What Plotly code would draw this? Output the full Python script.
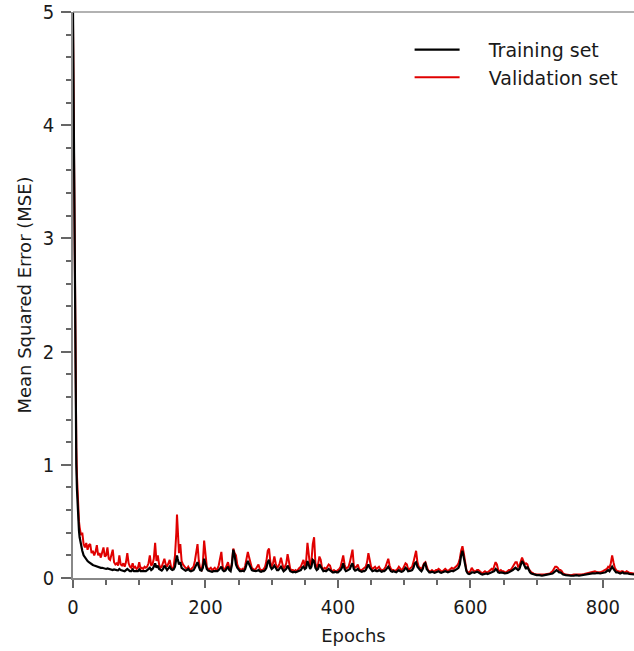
import plotly.graph_objects as go

# (epoch, training MSE, validation MSE)
epochs = [0,1,2,3,4,5,6,7,8,9,10,12,14,16,18,20,22,24,26,28,30,32,34,36,38,40,42,44,46,48,
          50,52,54,56,58,60,62,64,66,68,70,72,74,76,78,80,82,84,86,88,90,92,94,96,98,
          100,102,104,106,108,110,112,114,116,118,120,122,124,126,128,130,132,134,136,138,140,
          142,144,146,148,150,152,154,156,157,158,160,162,164,166,168,170,172,174,176,178,180,
          182,184,186,188,190,192,194,196,198,200,202,204,206,208,210,212,214,216,218,220,
          222,224,226,228,230,232,234,236,238,240,242,244,246,248,250,252,254,256,258,260,
          262,264,266,268,270,272,274,276,278,280,282,284,286,288,290,292,294,296,298,300,
          302,304,306,308,310,312,314,316,318,320,322,324,326,328,330,332,334,336,338,340,
          342,344,346,348,350,352,354,356,358,360,362,364,366,368,370,372,374,376,378,380,
          382,384,386,388,390,392,394,396,398,400,402,404,406,408,410,412,414,416,418,420,
          422,424,426,428,430,432,434,436,438,440,442,444,446,448,450,452,454,456,458,460,
          462,464,466,468,470,472,474,476,478,480,482,484,486,488,490,492,494,496,498,500,
          502,504,506,508,510,512,514,516,518,520,522,524,526,528,530,532,534,536,538,540,
          542,544,546,548,550,552,554,556,558,560,562,564,566,568,570,572,574,576,578,580,
          582,584,586,588,590,592,594,596,598,600,602,604,606,608,610,612,614,616,618,620,
          622,624,626,628,630,632,634,636,638,640,642,644,646,648,650,652,654,656,658,660,
          662,664,666,668,670,672,674,676,678,680,682,684,686,688,690,692,694,696,700,704,
          708,712,716,720,722,724,726,728,730,732,734,736,738,740,744,748,752,756,760,764,
          768,772,776,780,784,788,792,796,800,804,806,808,810,812,814,816,818,820,822,824,
          826,828,830,832,834,836,838,840,842,844,846,848,850]

train_mse = [5.0,4.1,3.0,2.1,1.45,1.0,0.78,0.62,0.5,0.42,0.36,0.29,0.24,0.2,0.18,0.16,0.15,0.14,0.13,0.125,
             0.115,0.11,0.105,0.1,0.1,0.095,0.09,0.09,0.088,0.085,
             0.08,0.085,0.08,0.075,0.075,0.07,0.075,0.07,0.07,0.068,0.08,0.07,0.065,0.065,0.06,0.07,0.08,0.07,0.06,0.06,
             0.075,0.06,0.06,0.065,0.06,
             0.075,0.06,0.06,0.06,0.065,0.06,0.07,0.085,0.09,0.07,0.08,0.1,0.13,0.09,0.11,0.08,0.07,0.065,0.08,0.11,0.09,
             0.07,0.085,0.1,0.08,0.07,0.075,0.1,0.17,0.2,0.17,0.12,0.14,0.09,0.08,0.07,0.065,0.07,0.08,0.065,0.06,0.065,
             0.07,0.09,0.12,0.14,0.1,0.07,0.065,0.09,0.17,0.12,0.08,0.065,0.06,0.06,0.055,0.06,0.06,0.055,0.06,0.07,
             0.09,0.1,0.07,0.06,0.065,0.08,0.1,0.07,0.06,0.12,0.25,0.2,0.12,0.09,0.07,0.06,0.06,0.065,0.06,0.08,
             0.12,0.15,0.12,0.09,0.07,0.065,0.06,0.06,0.065,0.07,0.06,0.055,0.06,0.06,0.07,0.09,0.14,0.16,0.1,0.08,
             0.09,0.11,0.09,0.07,0.07,0.09,0.1,0.08,0.06,0.07,0.08,0.11,0.08,0.06,0.055,0.05,0.055,0.05,0.055,0.06,
             0.06,0.07,0.09,0.1,0.08,0.09,0.15,0.12,0.08,0.1,0.16,0.15,0.09,0.07,0.08,0.12,0.1,0.07,0.06,0.065,
             0.06,0.07,0.08,0.07,0.055,0.05,0.05,0.055,0.05,0.05,0.06,0.07,0.09,0.13,0.08,0.06,0.065,0.07,0.08,0.11,
             0.13,0.08,0.065,0.07,0.08,0.065,0.06,0.055,0.06,0.06,0.07,0.09,0.12,0.09,0.07,0.06,0.065,0.07,0.06,0.06,
             0.07,0.06,0.055,0.06,0.06,0.07,0.09,0.1,0.08,0.06,0.055,0.06,0.055,0.05,0.06,0.07,0.06,0.055,0.06,0.07,
             0.09,0.08,0.06,0.06,0.065,0.07,0.09,0.13,0.14,0.1,0.08,0.07,0.06,0.08,0.12,0.13,0.08,0.06,0.05,0.05,
             0.055,0.05,0.045,0.05,0.055,0.06,0.05,0.045,0.05,0.055,0.06,0.055,0.05,0.055,0.06,0.065,0.06,0.065,0.07,0.08,
             0.09,0.12,0.2,0.24,0.18,0.1,0.06,0.04,0.035,0.04,0.05,0.05,0.045,0.05,0.055,0.05,0.04,0.035,0.03,0.035,
             0.04,0.04,0.035,0.04,0.045,0.05,0.05,0.06,0.08,0.07,0.05,0.045,0.05,0.05,0.045,0.04,0.04,0.045,0.05,0.055,
             0.06,0.07,0.08,0.09,0.08,0.07,0.08,0.12,0.15,0.13,0.1,0.08,0.1,0.07,0.05,0.04,0.035,0.03,0.025,0.025,
             0.02,0.025,0.03,0.03,0.035,0.04,0.05,0.06,0.07,0.06,0.05,0.05,0.04,0.03,0.025,0.02,0.02,0.02,0.025,0.02,
             0.025,0.025,0.03,0.035,0.04,0.04,0.045,0.04,0.045,0.05,0.06,0.07,0.06,0.08,0.1,0.08,0.06,0.05,0.05,0.045,
             0.04,0.045,0.05,0.04,0.04,0.045,0.04,0.035,0.035,0.03,0.03,0.03,0.03]

val_mse = [4.9,4.0,3.0,2.2,1.6,1.15,0.9,0.72,0.6,0.5,0.45,0.38,0.4,0.3,0.27,0.31,0.25,0.29,0.3,0.22,
           0.24,0.2,0.23,0.29,0.2,0.22,0.18,0.23,0.27,0.19,
           0.2,0.27,0.17,0.16,0.2,0.25,0.14,0.12,0.13,0.11,0.2,0.12,0.11,0.13,0.1,0.14,0.22,0.13,0.1,0.09,
           0.13,0.09,0.1,0.08,0.09,
           0.14,0.08,0.09,0.08,0.1,0.09,0.1,0.13,0.2,0.11,0.12,0.17,0.31,0.15,0.2,0.12,0.09,0.1,0.13,0.17,0.12,
           0.1,0.13,0.16,0.1,0.08,0.1,0.2,0.4,0.56,0.45,0.22,0.3,0.15,0.12,0.1,0.09,0.08,0.1,0.08,0.07,0.09,
           0.1,0.15,0.22,0.3,0.15,0.08,0.07,0.13,0.33,0.2,0.1,0.08,0.08,0.09,0.07,0.08,0.09,0.07,0.08,0.11,
           0.17,0.23,0.1,0.08,0.08,0.12,0.14,0.09,0.07,0.14,0.26,0.22,0.2,0.12,0.09,0.08,0.07,0.08,0.07,0.11,
           0.18,0.23,0.18,0.12,0.09,0.08,0.07,0.08,0.1,0.12,0.08,0.07,0.07,0.08,0.1,0.15,0.24,0.26,0.14,0.1,
           0.13,0.19,0.13,0.09,0.1,0.13,0.18,0.11,0.08,0.1,0.13,0.21,0.12,0.08,0.07,0.07,0.06,0.07,0.06,0.08,
           0.09,0.1,0.13,0.16,0.1,0.15,0.31,0.2,0.1,0.15,0.3,0.36,0.13,0.09,0.12,0.19,0.16,0.09,0.08,0.09,
           0.08,0.1,0.12,0.11,0.07,0.06,0.07,0.06,0.06,0.07,0.08,0.1,0.14,0.2,0.12,0.08,0.09,0.1,0.14,0.2,
           0.25,0.11,0.09,0.1,0.12,0.08,0.07,0.07,0.08,0.09,0.1,0.14,0.22,0.16,0.1,0.08,0.09,0.1,0.08,0.09,
           0.1,0.08,0.07,0.07,0.08,0.1,0.13,0.17,0.11,0.08,0.07,0.07,0.06,0.07,0.08,0.1,0.08,0.07,0.08,0.1,
           0.13,0.12,0.08,0.08,0.09,0.1,0.14,0.2,0.24,0.14,0.1,0.09,0.08,0.1,0.13,0.14,0.1,0.07,0.06,0.06,
           0.07,0.06,0.06,0.07,0.07,0.08,0.07,0.06,0.06,0.07,0.08,0.07,0.06,0.07,0.08,0.09,0.08,0.09,0.1,0.11,
           0.13,0.17,0.24,0.28,0.22,0.12,0.07,0.05,0.05,0.06,0.09,0.07,0.06,0.06,0.07,0.07,0.06,0.05,0.04,0.05,
           0.06,0.05,0.05,0.06,0.07,0.08,0.07,0.1,0.14,0.12,0.07,0.06,0.07,0.06,0.06,0.05,0.05,0.06,0.07,0.07,
           0.08,0.1,0.12,0.14,0.14,0.1,0.11,0.15,0.18,0.15,0.12,0.13,0.12,0.08,0.06,0.05,0.045,0.035,0.03,0.03,
           0.025,0.03,0.035,0.04,0.05,0.06,0.08,0.1,0.1,0.09,0.07,0.07,0.06,0.04,0.03,0.025,0.025,0.03,0.03,0.025,
           0.03,0.035,0.04,0.05,0.05,0.06,0.05,0.05,0.06,0.07,0.08,0.1,0.09,0.13,0.2,0.14,0.09,0.07,0.06,0.06,
           0.05,0.06,0.06,0.05,0.05,0.06,0.05,0.045,0.045,0.04,0.04,0.04,0.04]

x_ticks = [0, 200, 400, 600, 800]
y_ticks = [0, 1, 2, 3, 4, 5]

NB = "\u00a0" * 4
tick_font = dict(family="DejaVu Sans Condensed, DejaVu Sans, sans-serif", size=20, color="#1a1a1a")
title_font = dict(family="DejaVu Sans, sans-serif", size=18, color="#1a1a1a")

fig = go.Figure()
fig.add_trace(go.Scatter(x=epochs, y=val_mse, mode="lines", name=NB + "Validation set",
                         line=dict(color="#e00000", width=2), legendrank=2))
fig.add_trace(go.Scatter(x=epochs, y=train_mse, mode="lines", name=NB + "Training set",
                         line=dict(color="#000000", width=2.2), legendrank=1))

fig.update_layout(
    width=634, height=651,
    margin=dict(l=73, r=0, t=10, b=73),
    paper_bgcolor="white", plot_bgcolor="white",
    showlegend=True,
    legend=dict(x=0.6, y=0.967, xanchor="left", yanchor="top",
                font=dict(family="DejaVu Sans, sans-serif", size=19, color="#1a1a1a"),
                bgcolor="rgba(0,0,0,0)", itemwidth=45, tracegroupgap=0),
    shapes=[dict(type="line", xref="paper", yref="paper", x0=0, x1=1, y0=1, y1=1,
                 line=dict(color="#999999", width=1.5))],
)
fig.update_xaxes(
    range=[0, 847], tickvals=x_ticks, showgrid=False, zeroline=False,
    showline=True, linecolor="#888888", linewidth=1.5,
    ticks="outside", ticklen=8, tickcolor="#666666", tickwidth=1.5,
    minor=dict(dtick=50, ticks="outside", ticklen=5, tickcolor="#666666", tickwidth=1.5, showgrid=False),
    tickfont=tick_font, ticklabelstandoff=2,
    title=dict(text="Epochs", font=title_font, standoff=12),
)
fig.update_yaxes(
    range=[0, 5], tickvals=y_ticks, showgrid=False, zeroline=False,
    showline=True, linecolor="#888888", linewidth=1.5,
    ticks="outside", ticklen=10, tickcolor="#666666", tickwidth=1.5,
    minor=dict(dtick=0.2, ticks="outside", ticklen=5, tickcolor="#666666", tickwidth=1.5, showgrid=False),
    tickfont=tick_font, ticklabelstandoff=3, ticklabeloverflow="allow",
    title=dict(text="Mean Squared Error (MSE)", font=title_font, standoff=6),
)

fig.write_html("out.html", config={"displayModeBar": False},
               post_script="document.body.style.margin='0';")
